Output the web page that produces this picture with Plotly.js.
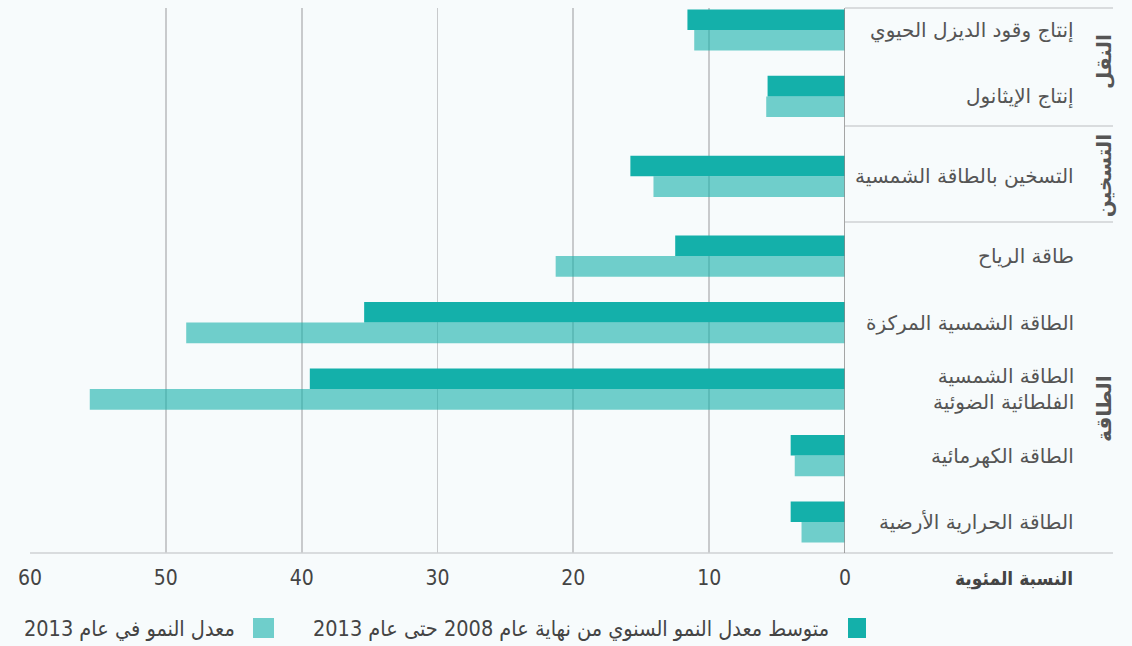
<!DOCTYPE html>
<html><head><meta charset="utf-8">
<script src="https://cdn.plot.ly/plotly-3.0.1.min.js"></script>
<style>html,body{margin:0;padding:0;background:#f7fbfc;}#chart{width:1132px;height:646px;}</style>
</head><body><div id="chart"></div>
<script>
const categories = ['إنتاج وقود الديزل الحيوي','إنتاج الإيثانول','التسخين بالطاقة الشمسية','طاقة الرياح','الطاقة الشمسية المركزة','الطاقة الشمسية<br>الفلطائية الضوئية','الطاقة الكهرمائية','الطاقة الحرارية الأرضية'];
const groups = ['النقل','النقل','التسخين','الطاقة','الطاقة','الطاقة','الطاقة','الطاقة'];
const avgGrowth = [11.6, 5.7, 15.8, 12.5, 35.4, 39.4, 4.0, 4.0];
const growth2013 = [11.1, 5.8, 14.1, 21.3, 48.5, 55.6, 3.7, 3.2];
const seriesNames = ['متوسط معدل النمو السنوي من نهاية عام 2008 حتى عام 2013','معدل النمو في عام 2013'];
const xTicks = [0, 10, 20, 30, 40, 50, 60];
const xAxisTitle = 'النسبة المئوية';

// layout positions: category index plus a small gap between groups
const GAP = 0.2;
const pos = [];
let gi = 0;
categories.forEach((c, i) => { if (i > 0 && groups[i] !== groups[i-1]) gi++; pos.push(i + gi * GAP); });

const dark = '#14b0aa';
const light = 'rgba(20,176,170,0.6)';
const txt = '#555555';
const arab = 'DejaVu Sans, sans-serif';
const narrow = 'Liberation Sans Narrow, DejaVu Sans Condensed, sans-serif';

const traces = [
  {type:'bar', orientation:'h', y:pos, x:avgGrowth, name:seriesNames[0], marker:{color:dark}, hoverinfo:'x'},
  {type:'bar', orientation:'h', y:pos, x:growth2013, name:seriesNames[1], marker:{color:light}, hoverinfo:'x'}
];

const L = 30, R = 845, T = 8, B = 553;
const px = v => (v - L) / (R - L);
const py = v => (B - v) / (B - T);

const annotations = categories.map((c, i) => ({
  xref:'paper', yref:'y', x:px(1076), y:pos[i], xanchor:'right', yanchor:'middle', align:'right',
  text:c, showarrow:false, font:{family:arab, size:20, color:txt}
}));
// group labels
const uniqGroups = [...new Set(groups)];
const groupY = [0.48, 2.2, 5.7];
uniqGroups.forEach((g, k) => annotations.push({
  xref:'paper', yref:'y', x:px(1104), y:groupY[k], xanchor:'center', yanchor:'middle',
  text:'<b>'+g+'</b>', textangle:-90, showarrow:false, font:{family:arab, size:20, color:txt}
}));
annotations.push({xref:'paper', yref:'paper', x:px(1075), y:py(578), xanchor:'right', yanchor:'middle',
  text:'<b>'+xAxisTitle+'</b>', showarrow:false, font:{family:narrow, size:19, color:'#444'}});
// legend texts
annotations.push({xref:'paper', yref:'paper', x:px(831), y:py(628), xanchor:'right', yanchor:'middle',
  text:seriesNames[0], showarrow:false, font:{family:narrow, size:21.5, color:'#444'}});
annotations.push({xref:'paper', yref:'paper', x:px(237), y:py(628), xanchor:'right', yanchor:'middle',
  text:seriesNames[1], showarrow:false, font:{family:narrow, size:21.5, color:'#444'}});

const lineC = '#cfd2d4';
const shapes = [
  {type:'line', xref:'paper', yref:'paper', x0:0, x1:px(1113), y0:0, y1:0, line:{color:lineC, width:1.5}},
  {type:'line', xref:'paper', yref:'paper', x0:1, x1:px(1113), y0:1, y1:1, line:{color:lineC, width:1.5}},
  {type:'line', xref:'paper', yref:'paper', x0:1, x1:px(1113), y0:py(126), y1:py(126), line:{color:lineC, width:1.5}},
  {type:'line', xref:'paper', yref:'paper', x0:1, x1:px(1113), y0:py(222), y1:py(222), line:{color:lineC, width:1.5}},
  {type:'line', xref:'x', yref:'paper', x0:0, x1:0, y0:0, y1:1, line:{color:'#888888', width:1.5}, layer:'above'},
  {type:'rect', xref:'paper', yref:'paper', x0:px(848), x1:px(866), y0:py(618), y1:py(638), line:{width:0}, fillcolor:dark},
  {type:'rect', xref:'paper', yref:'paper', x0:px(253), x1:px(274), y0:py(618), y1:py(638), line:{width:0}, fillcolor:light}
];

const layout = {
  width:1132, height:646,
  paper_bgcolor:'#f7fbfc', plot_bgcolor:'#f7fbfc',
  margin:{l:L, r:1132-R, t:T, b:646-B},
  barmode:'group', bargap:0.38, bargroupgap:0,
  showlegend:false,
  xaxis:{range:[60,0], tickvals:xTicks, ticktext:xTicks.map(String), showgrid:true, gridcolor:'#c8cacc', gridwidth:1.8,
         zeroline:false, showline:false, ticks:'', ticklabelstandoff:10,
         tickfont:{family:narrow, size:21, color:'#444'}, fixedrange:true},
  yaxis:{range:[pos[pos.length-1] + (B - 522) / 66.5, -(30 - T) / 66.5], showgrid:false, zeroline:false, showticklabels:false, ticks:'', fixedrange:true},
  annotations:annotations, shapes:shapes
};
Plotly.newPlot('chart', traces, layout, {displayModeBar:false, staticPlot:true});
</script></body></html>
